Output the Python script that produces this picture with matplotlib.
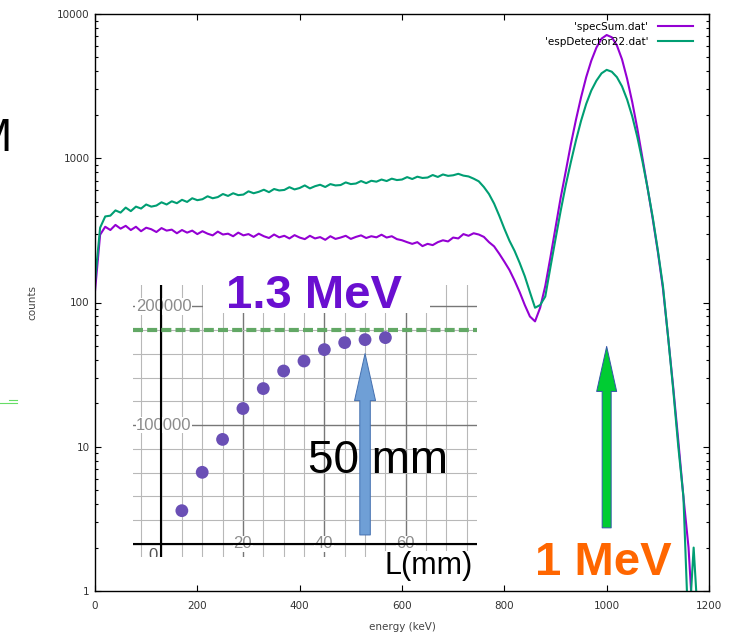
import numpy as np
import matplotlib
matplotlib.use('Agg')
import matplotlib.pyplot as plt
from matplotlib.lines import Line2D
from matplotlib.patches import Rectangle

# ---------- Data ----------
# energy bins (keV), one value every 10 keV
energy = np.arange(0, 1190, 10)

spec_sum = [
    120, 295, 335, 318, 345, 325, 340, 318, 335, 312,
    330, 322, 308, 328, 315, 320, 302, 318, 305, 315,
    298, 312, 300, 292, 310, 296, 300, 288, 305, 292,
    298, 285, 300, 288, 280, 296, 283, 290, 278, 293,
    282, 275, 290, 278, 284, 272, 288, 276, 282, 290,
    276, 285, 292, 280, 288, 283, 295, 282, 288, 275,
    270, 262, 255, 262, 246, 255, 250, 262, 270, 265,
    282, 278, 298, 290, 302, 296, 285, 262, 245, 218,
    192, 168, 142, 118, 96, 80, 74, 92, 130, 205,
    330, 530, 810, 1250, 1850, 2650, 3650, 4750, 5850, 6750,
    7150, 6900, 6050, 4850, 3550, 2450, 1600, 1000, 620, 380,
    225, 125, 58, 26, 11, 4.5, 2, 0.5, 0.5,
]

esp_det22 = [
    140, 330, 395, 400, 435, 420, 455, 430, 462, 448,
    478, 462, 470, 495, 478, 503, 488, 515, 498, 528,
    512, 520, 545, 528, 538, 565, 548, 572, 555, 560,
    590, 572, 585, 605, 582, 612, 598, 603, 630, 608,
    622, 648, 618, 640, 655, 632, 662, 648, 652, 680,
    662, 668, 695, 672, 698, 688, 712, 695, 722, 706,
    712, 740, 718, 745, 730, 735, 765, 742, 772, 755,
    762, 780, 758, 748, 722, 692, 632, 565, 485, 400,
    325, 268, 228, 188, 152, 118, 92, 96, 110, 175,
    275, 430, 650, 940, 1330, 1820, 2380, 2950, 3450, 3880,
    4100, 3980, 3650, 3150, 2550, 1950, 1400, 950, 620, 390,
    230, 130, 58, 25, 10, 4.5, 0.5, 2, 0.5,
]

# inset: peak counts vs detector length
length_mm = [5, 10, 15, 20, 25, 30, 35, 40, 45, 50, 55]
peak_counts = [28000, 60300, 88000, 114000, 130800, 145600,
               154000, 163600, 169500, 172000, 173700]
plateau = 180000

xticks_main = [0, 200, 400, 600, 800, 1000, 1200]
yticks_main = [1, 10, 100, 1000, 10000]

W, H = 736, 637


def fx(px):
    return px / W


def fy(py):
    return 1 - py / H


fig = plt.figure(figsize=(W / 100, H / 100), dpi=100)

# ---------- Main spectrum ----------
ax = fig.add_axes([fx(95), fy(591), fx(709) - fx(95), fy(14) - fy(591)])
ax.plot(energy, spec_sum, color='#9400d3', lw=1.5, label="'specSum.dat'")
ax.plot(energy, esp_det22, color='#009e73', lw=1.5, label="'espDetector22.dat'")
ax.set_yscale('log')
ax.set_xlim(0, 1200)
ax.set_ylim(1, 10000)
ax.set_xticks(xticks_main)
ax.set_yticks(yticks_main)
ax.set_yticklabels([str(v) for v in yticks_main])
ax.tick_params(which='both', direction='in', top=True, right=True,
               labelsize=7.5, labelcolor='#333333', width=0.8)
ax.tick_params(which='major', length=4.5, pad=7)
ax.tick_params(which='minor', length=2.3)
ax.tick_params(axis='y', which='major', pad=4)
for s in ax.spines.values():
    s.set_linewidth(1.0)
ax.set_xlabel('energy (keV)', fontsize=7.5, color='#444444')
ax.set_ylabel('counts', fontsize=7.5, color='#444444')
ax.xaxis.set_label_coords(0.5, (591 - 622) / 577)
ax.yaxis.set_label_coords((37 - 95) / 614, 0.5)
ax.legend(loc='upper right', bbox_to_anchor=(fx(693), fy(22)),
          bbox_transform=fig.transFigure, frameon=False, markerfirst=False,
          fontsize=7.5, handlelength=3.4, handletextpad=0.9, borderpad=0,
          borderaxespad=0, labelspacing=0.45)

# green arrow at 1 MeV
ax.annotate('', xy=(1000, 49.6), xytext=(1000, 2.74),
            arrowprops=dict(arrowstyle='simple,head_width=20,head_length=45,tail_width=9',
                            mutation_scale=0.72, fc='#00cc33', ec='#3355aa', lw=0.7,
                            shrinkA=0, shrinkB=0),
            annotation_clip=False, zorder=6)

# ---------- Inset ----------
axi = fig.add_axes([fx(133), fy(557), fx(477) - fx(133), fy(285) - fy(557)])
axi.set_xlim(-7, 77.5)
axi.set_ylim(-11000, 218000)
axi.set_facecolor('white')
for s in axi.spines.values():
    s.set_visible(False)
axi.set_xticks([])
axi.set_yticks([])

for gx in range(-5, 80, 5):
    major = gx % 20 == 0
    axi.axvline(gx, color='#777777' if major else '#b8b8b8', lw=1.0 if major else 0.8, zorder=1)
for gy in range(0, 220000, 20000):
    major = gy % 100000 == 0
    axi.axhline(gy, color='#777777' if major else '#b8b8b8', lw=1.0 if major else 0.8, zorder=1)

lab = dict(fontsize=12, color='#8c8c8c', family='Liberation Sans', zorder=2.5,
           ha='center', va='center',
           bbox=dict(fc='white', ec='none', pad=0.5))
axi.text(0.6, 200000, '200000', **lab)
axi.text(0.6, 100000, '100000', **lab)
for v in [20, 40, 60]:
    axi.text(v, 0, str(v), **lab)
axi.text(-2.1, -9500, '0', fontsize=12, color='#555555', family='Liberation Sans',
         ha='center', va='center', clip_on=True, zorder=2.5)

axi.axvline(0, color='black', lw=1.5, zorder=3)
axi.axhline(0, color='black', lw=1.5, zorder=3)

axi.axhline(plateau, color='#62a865', lw=3, linestyle=(0, (2.4, 1.0)), zorder=3)
axi.scatter(length_mm, peak_counts, s=85, color='#6a4fb5', edgecolors='none', zorder=4)

# white box behind the 1.3 MeV label
axi.add_patch(Rectangle((fx(203), fy(313)), fx(430) - fx(203), fy(282) - fy(313),
                        transform=fig.transFigure, fc='white', ec='none', zorder=3.5))

axi.text(fx(377.5), fy(473), '50 mm', transform=fig.transFigure, fontsize=33,
         family='Liberation Sans', ha='center', va='baseline', zorder=5)
axi.annotate('', xy=(50, 160250), xytext=(50, 7560),
             arrowprops=dict(arrowstyle='simple,head_width=21,head_length=47,tail_width=10.5',
                             mutation_scale=0.72, fc='#6f9fd6', ec='#4470b0', lw=0.7,
                             shrinkA=0, shrinkB=0),
             zorder=6)

# ---------- Overlay labels ----------
fig.text(fx(313.5), fy(308), '1.3 MeV', fontsize=34, fontweight='bold',
         color='#6a0fd0', family='Liberation Sans', ha='center', va='baseline', zorder=10)
fig.text(fx(603.5), fy(575), '1 MeV', fontsize=34, fontweight='bold',
         color='#ff6600', family='Liberation Sans', ha='center', va='baseline', zorder=10)
fig.text(fx(429), fy(574), 'L(mm)', fontsize=22, family='Liberation Sans',
         ha='center', va='baseline', zorder=10,
         bbox=dict(fc='white', ec='none', pad=0))
# partial letter cut by the left edge, as in the source picture
fig.text(fx(11), fy(151), 'M', fontsize=34, family='Liberation Sans',
         ha='right', va='baseline', zorder=10)

fig.add_artist(Line2D([fx(9), fx(17)], [fy(400), fy(400)], color='#66dd66', lw=0.8))
fig.add_artist(Line2D([fx(0), fx(17)], [fy(403), fy(403)], color='#66dd66', lw=0.8))

fig.savefig('out.png', dpi=100)
